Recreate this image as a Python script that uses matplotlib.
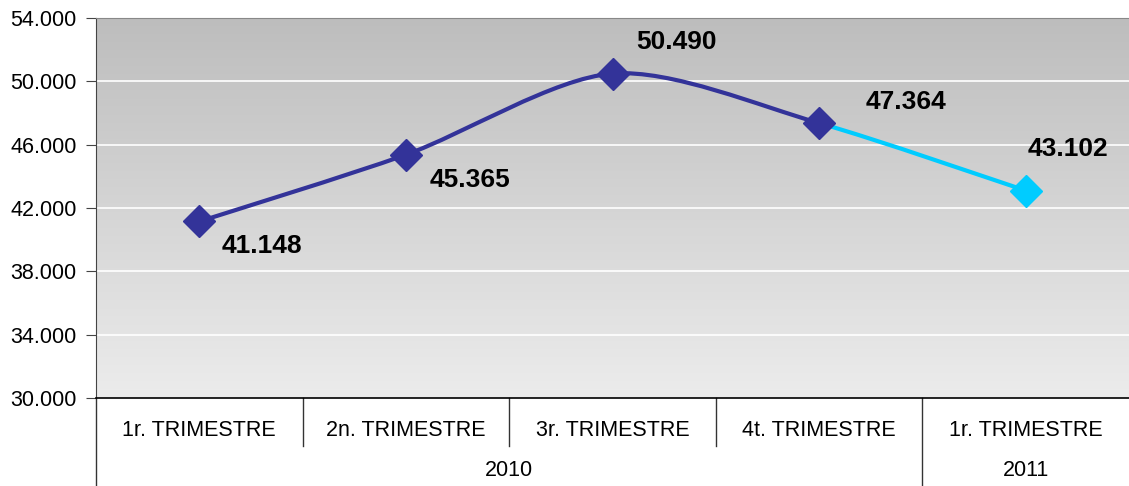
import numpy as np
import matplotlib.pyplot as plt
from matplotlib.path import Path
from matplotlib.patches import PathPatch
from matplotlib.colors import LinearSegmentedColormap

plt.rcParams['font.family'] = ['Liberation Sans', 'DejaVu Sans']

quarters = ['1r. TRIMESTRE', '2n. TRIMESTRE', '3r. TRIMESTRE', '4t. TRIMESTRE', '1r. TRIMESTRE']
years = ['2010', '2011']
year_span = [4, 1]
values = [41148, 45365, 50490, 47364, 43102]
value_labels = ['41.148', '45.365', '50.490', '47.364', '43.102']
yticks = [30000, 34000, 38000, 42000, 46000, 50000, 54000]
ytick_labels = ['30.000', '34.000', '38.000', '42.000', '46.000', '50.000', '54.000']

dark = '#333399'
light = '#00ccff'


def smooth_path(xs, ys, i0, i1):
    # catmull-rom style bezier pieces between points i0..i1
    verts = [(xs[i0], ys[i0])]
    codes = [Path.MOVETO]
    n = len(xs)
    for i in range(i0, i1):
        p0 = np.array([xs[max(i - 1, 0)], ys[max(i - 1, 0)]])
        p1 = np.array([xs[i], ys[i]])
        p2 = np.array([xs[i + 1], ys[i + 1]])
        p3 = np.array([xs[min(i + 2, n - 1)], ys[min(i + 2, n - 1)]])
        c1 = p1 + (p2 - p0) / 7.0
        c2 = p2 - (p3 - p1) / 7.0
        verts += [tuple(c1), tuple(c2), tuple(p2)]
        codes += [Path.CURVE4] * 3
    return Path(verts, codes)


fig = plt.figure(figsize=(11.29, 4.86), dpi=100)
ax = fig.add_axes([96 / 1129, 1 - 398 / 486, 1 - 96 / 1129, 380 / 486])

x = np.arange(len(values))
ax.set_xlim(-0.5, len(values) - 0.5)
ax.set_ylim(30000, 54000)

# gradient background
grad = np.linspace(0, 1, 256).reshape(-1, 1)
ax.imshow(grad, extent=[0, 1, 0, 1], transform=ax.transAxes, aspect='auto',
          cmap=LinearSegmentedColormap.from_list('g', ['#bdbdbd', '#ececec']),
          zorder=0, origin='upper')

for t in yticks[1:-1]:
    ax.axhline(t, color='white', lw=1.2, zorder=1)

ax.add_patch(PathPatch(smooth_path(x, values, 0, 3), fill=False, ec=dark, lw=3, zorder=3))
ax.add_patch(PathPatch(smooth_path(x, values, 3, 4), fill=False, ec=light, lw=3, zorder=3))
ax.plot(x[:4], values[:4], 'D', color=dark, ms=16, zorder=4)
ax.plot(x[4:], values[4:], 'D', color=light, ms=16, zorder=4)

offsets = [(63, -25), (64, -25), (64, 32), (87, 21), (42, 42)]
for xi, v, lab, off in zip(x, values, value_labels, offsets):
    ax.annotate(lab, (xi, v), xytext=off, textcoords='offset pixels',
                ha='center', va='center', fontsize=19, fontweight='bold', zorder=5)

ax.set_yticks(yticks)
ax.set_yticklabels(ytick_labels, fontsize=15.5)
ax.tick_params(axis='y', length=7, direction='out', color='#444444', pad=7)
ax.set_xticks([])

ax.spines['right'].set_visible(False)
ax.spines['top'].set_color('#888888')
ax.spines['left'].set_color('#444444')
ax.spines['bottom'].set_color('black')
ax.spines['bottom'].set_linewidth(1.2)

# two-level category axis
trans = ax.get_xaxis_transform()
for i in range(1, len(quarters)):
    bottom = -0.125
    if i == year_span[0]:
        bottom = -0.23
    ax.plot([i - 0.5, i - 0.5], [0, bottom], color='#333333', lw=1, transform=trans, clip_on=False)
ax.plot([-0.5, -0.5], [0, -0.23], color='#333333', lw=1, transform=trans, clip_on=False)

for xi, q in zip(x, quarters):
    ax.text(xi, -0.085, q, transform=trans, ha='center', va='center', fontsize=15.5)

start = 0
for yr, span in zip(years, year_span):
    ax.text(start - 0.5 + span / 2.0, -0.19, yr, transform=trans, ha='center', va='center', fontsize=15.5)
    start += span

fig.savefig('out.png', dpi=100)
